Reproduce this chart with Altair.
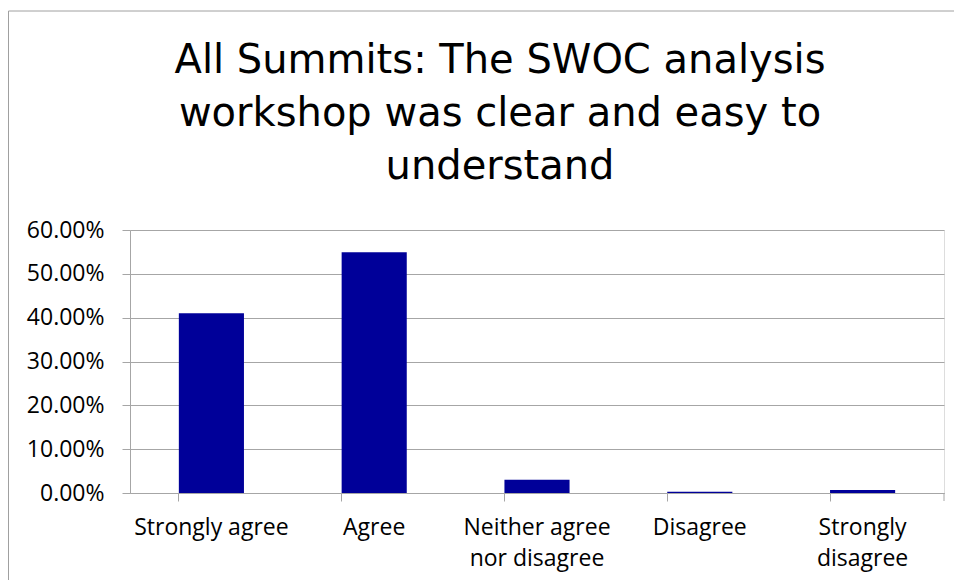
import altair as alt
import pandas as pd

categories = ["Strongly agree", "Agree", "Neither agree nor disagree", "Disagree", "Strongly disagree"]
values = [0.410, 0.549, 0.030, 0.003, 0.007]
y_ticks = [0.0, 0.1, 0.2, 0.3, 0.4, 0.5, 0.6]
title_lines = ["All Summits: The SWOC analysis", "workshop was clear and easy to", "understand"]

df = pd.DataFrame({"category": categories, "value": values})

W, H = 814, 263
GRID = "#a6a6a6"
LABEL_FONT = "Open Sans"

label_expr = (
    "datum.value == 'Neither agree nor disagree' ? ['Neither agree', 'nor disagree'] : "
    "datum.value == 'Strongly disagree' ? ['Strongly', 'disagree'] : datum.value"
)

bars = alt.Chart(df).mark_bar(color="#000099").encode(
    x=alt.X(
        "category:N",
        sort=categories,
        title=None,
        scale=alt.Scale(paddingInner=0.6, paddingOuter=0.3),
        axis=alt.Axis(
            labelAngle=0,
            labelExpr=label_expr,
            labelFont=LABEL_FONT,
            labelFontSize=23,
            labelColor="#000000",
            labelLineHeight=31,
            labelPadding=15,
            labelBaseline="top",
            bandPosition=0,
            tickSize=8,
            tickColor=GRID,
            domainColor=GRID,
            grid=False,
        ),
    ),
    y=alt.Y(
        "value:Q",
        title=None,
        scale=alt.Scale(domain=[0, 0.6], nice=False),
        axis=alt.Axis(
            values=y_ticks,
            format=".2%",
            labelFont=LABEL_FONT,
            labelFontSize=23,
            labelColor="#000000",
            labelPadding=18,
            tickSize=8,
            tickColor=GRID,
            domainColor=GRID,
            gridColor=GRID,
            grid=True,
        ),
    ),
)

# closing tick at right end of the category axis
end_tick = alt.Chart(df.head(1)).mark_rule(color=GRID).encode(
    x=alt.value(W), y=alt.value(H), y2=alt.value(H + 8)
)

# chart frame (decorative border)
frame_top = alt.Chart(df.head(1)).mark_rule(color="#a0a0a0").encode(
    x=alt.value(-121.5), x2=alt.value(W + 40), y=alt.value(-219)
)
frame_left = alt.Chart(df.head(1)).mark_rule(color="#a0a0a0").encode(
    x=alt.value(-121.5), y=alt.value(-219), y2=alt.value(H + 100)
)

title = alt.Chart(df.head(1)).mark_text(
    text=title_lines,
    font="DejaVu Sans",
    fontSize=40,
    color="#000000",
    lineHeight=53,
    align="center",
    baseline="alphabetic",
).encode(x=alt.value(W / 2 - 37), y=alt.value(73 - 230))

chart = alt.layer(bars, end_tick, frame_top, frame_left, title).properties(
    width=W,
    height=H,
    padding={"left": 122, "top": 222, "right": 10, "bottom": 87},
    autosize=alt.AutoSizeParams(type="none"),
).configure_view(stroke=None).configure(background="white")

chart.save("out.html", embed_options={"renderer": "svg", "actions": False})
